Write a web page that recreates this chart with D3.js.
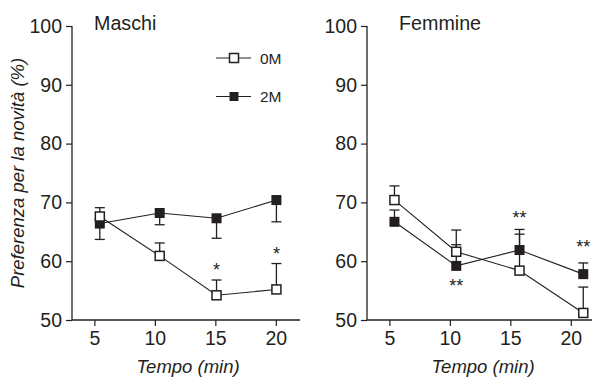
<!DOCTYPE html>
<html>
<head>
<meta charset="utf-8">
<script src="https://cdn.jsdelivr.net/npm/d3@7"></script>
<style>
  body { margin: 0; background: #fff; }
  svg { display: block; font-family: "Liberation Sans", Arial, sans-serif; }
</style>
</head>
<body>
<div id="chart"></div>
<script>
var chart_width  = 592;
var chart_height = 378;

// sampling times (min), as plotted (points sit a bit off the ticks)
var times_m = [5.45, 10.4, 15.1, 20.05];
var times_f = [5.42, 10.53, 15.76, 21.03];

// Maschi
var m_0M     = [67.6, 60.9, 54.2, 55.2];
var m_0M_err = [1.5, 2.2, 2.6, 4.4];
var m_2M     = [66.4, 68.2, 67.3, 70.4];
var m_2M_err = [2.7, 2.0, 3.4, 3.7];

// Femmine
var f_0M     = [70.4, 61.6, 58.4, 51.2];
var f_0M_err = [2.4, 3.7, 7.0, 4.4];
var f_2M     = [66.7, 59.2, 61.9, 57.8];
var f_2M_err = [2.0, 3.6, 2.7, 1.9];

// significance marks: time, value, label
var m_stars = [[15.1, 59.2, '*'], [20.05, 62.0, '*']];
var f_stars = [[10.53, 56.5, '**'], [15.76, 68.1, '**'], [21.03, 63.1, '**']];

var x_ticks = [5, 10, 15, 20];
var y_ticks = [50, 60, 70, 80, 90, 100];
var series_names = ['0M', '2M'];

var ink = '#231f20';

var svg = d3.select('#chart')
            .append('svg')
            .attr('width', chart_width)
            .attr('height', chart_height);

var y_scale = d3.scaleLinear()
                .domain([50, 100])
                .range([320, 26]);

function drawPanel(x0, title, title_dx, times, s0, e0, s2, e2, err_dir, stars) {
    var x_scale = d3.scaleLinear()
                    .domain([3.15, 22])
                    .range([x0, x0 + 228]);

    var g = svg.append('g');

    // axes
    var y_axis = d3.axisLeft(y_scale).tickValues(y_ticks).tickSize(6).tickPadding(4);
    var ya = g.append('g').attr('transform', 'translate(' + x0 + ',0)').call(y_axis);
    var x_axis = d3.axisBottom(x_scale).tickValues(x_ticks).tickSize(6).tickPadding(5);
    var xa = g.append('g').attr('transform', 'translate(0,320)').call(x_axis);
    [ya, xa].forEach((a) => {
        a.select('.domain').attr('stroke', ink).attr('stroke-width', 1.3)
            .attr('d', a === ya ? 'M0,26V320' : 'M' + x0 + ',0H' + (x0 + 228));
        a.selectAll('.tick line').attr('stroke', ink).attr('stroke-width', 1.2);
        a.selectAll('.tick text').attr('fill', ink).attr('font-size', 19.5);
    });

    g.append('text')
        .attr('x', (x_scale(5) + x_scale(20)) / 2 + 3)
        .attr('y', 373)
        .attr('text-anchor', 'middle')
        .attr('font-size', 18.5)
        .attr('font-style', 'italic')
        .attr('fill', ink)
        .text('Tempo (min)');

    g.append('text')
        .attr('x', x0 + title_dx)
        .attr('y', 30)
        .attr('font-size', 19.7)
        .attr('fill', ink)
        .text(title);

    var line = d3.line()
                 .x((d, i) => x_scale(times[i]))
                 .y((d) => y_scale(d));

    [[s0, e0, err_dir[0]], [s2, e2, err_dir[1]]].forEach((s) => {
        g.append('path')
            .attr('d', line(s[0]))
            .attr('fill', 'none')
            .attr('stroke', ink)
            .attr('stroke-width', 1.1);
    });

    // error bars
    [[s0, e0, err_dir[0]], [s2, e2, err_dir[1]]].forEach((s) => {
        s[0].forEach((v, i) => {
            var cx = x_scale(times[i]);
            var yend = y_scale(v + s[2] * s[1][i]);
            g.append('line')
                .attr('x1', cx).attr('x2', cx)
                .attr('y1', y_scale(v)).attr('y2', yend)
                .attr('stroke', ink).attr('stroke-width', 1.3);
            g.append('line')
                .attr('x1', cx - 5).attr('x2', cx + 5)
                .attr('y1', yend).attr('y2', yend)
                .attr('stroke', ink).attr('stroke-width', 1.3);
        });
    });

    // markers
    g.selectAll('rect.filled')
        .data(s2)
        .enter()
        .append('rect')
        .attr('class', 'filled')
        .attr('x', (d, i) => x_scale(times[i]) - 5)
        .attr('y', (d) => y_scale(d) - 5)
        .attr('width', 10)
        .attr('height', 10)
        .attr('fill', ink);

    g.selectAll('rect.open')
        .data(s0)
        .enter()
        .append('rect')
        .attr('class', 'open')
        .attr('x', (d, i) => x_scale(times[i]) - 4.5)
        .attr('y', (d) => y_scale(d) - 4.5)
        .attr('width', 9)
        .attr('height', 9)
        .attr('fill', '#fff')
        .attr('stroke', ink)
        .attr('stroke-width', 1.5);

    g.selectAll('text.star')
        .data(stars)
        .enter()
        .append('text')
        .attr('class', 'star')
        .attr('x', (d) => x_scale(d[0]))
        .attr('y', (d) => y_scale(d[1]) + 10.5)
        .attr('text-anchor', 'middle')
        .attr('font-size', 18)
        .attr('fill', ink)
        .text((d) => d[2]);
}

drawPanel(72, 'Maschi', 22, times_m, m_0M, m_0M_err, m_2M, m_2M_err, [1, -1], m_stars);
drawPanel(367, 'Femmine', 32, times_f, f_0M, f_0M_err, f_2M, f_2M_err, [1, 1], f_stars);

// y title
svg.append('text')
    .attr('transform', 'translate(24,173) rotate(-90)')
    .attr('text-anchor', 'middle')
    .attr('font-size', 18.5)
    .attr('font-style', 'italic')
    .attr('fill', ink)
    .text('Preferenza per la novità (%)');

// legend
var legend = svg.append('g');
series_names.forEach((name, i) => {
    var ly = 58 + i * 38.5;
    legend.append('line')
        .attr('x1', 216).attr('x2', 251)
        .attr('y1', ly).attr('y2', ly)
        .attr('stroke', ink).attr('stroke-width', 1.1);
    legend.append('rect')
        .attr('x', 234 - 4.5).attr('y', ly - 4.5)
        .attr('width', 9).attr('height', 9)
        .attr('fill', i === 0 ? '#fff' : ink)
        .attr('stroke', ink).attr('stroke-width', i === 0 ? 1.5 : 0);
    legend.append('text')
        .attr('x', 260).attr('y', ly + 5.5)
        .attr('font-size', 15.5)
        .attr('fill', ink)
        .text(name);
});
</script>
</body>
</html>
